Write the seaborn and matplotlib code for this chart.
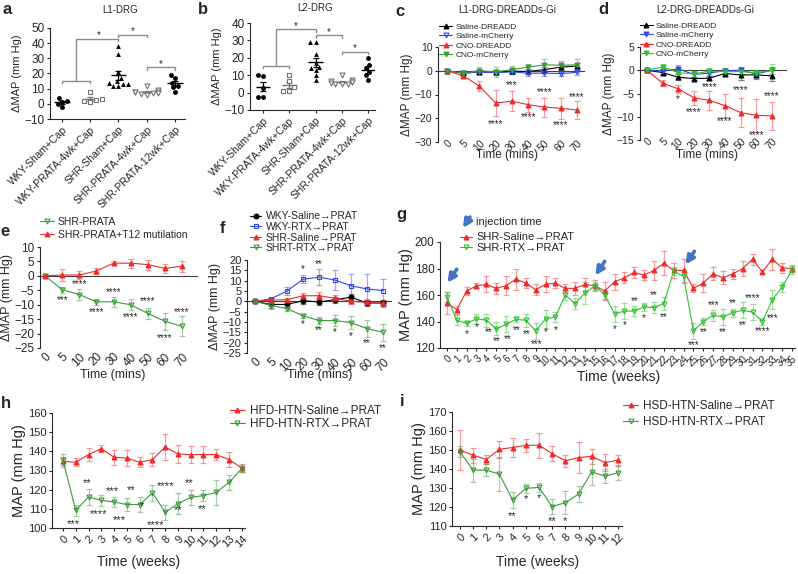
import numpy as np
import matplotlib
matplotlib.use("Agg")
import matplotlib.pyplot as plt
import seaborn as sns

# ---------------- data ----------------
groups = ["WKY-Sham+Cap", "WKY-PRATA-4wk+Cap", "SHR-Sham+Cap",
          "SHR-PRATA-4wk+Cap", "SHR-PRATA-12wk+Cap"]

# a: L1-DRG
a_wky_sham = [4, 2, 1.5, 0, -2]
a_wky_prata = [8, 3, 2.5, 2, 1]
a_shr_sham = [38, 33, 21, 17, 15, 14, 13, 12, 12, 13]
a_shr_prata4 = [12, 9, 8, 7.5, 7, 6.5, 6, 7, 8]
a_shr_prata12 = [19, 17, 14, 12, 11, 8]

# b: L2-DRG
b_wky_sham = [10, 9.5, 2.5, -2.5, -2.3]
b_wky_prata = [10, 6.5, 3, 1, 1]
b_shr_sham = [29, 29, 22, 17, 15, 14, 13, 10, 7]
b_shr_prata4 = [10, 7, 6.5, 6, 6, 5.5, 5, 5, 5]
b_shr_prata12 = [20, 16, 14, 12, 10, 7.5]

mins = [0, 5, 10, 20, 30, 40, 50, 60, 70]

# c: L1-DRG-DREADDs-Gi
c_sal_dreadd = [0, -1, -0.5, -0.5, -0.2, -0.3, 0.5, 1.5, 2]
c_sal_dreadd_se = [0.3, 0.8, 1, 1, 1, 1, 1, 1.2, 1.2]
c_sal_mch = [0, -1, -0.5, -0.8, -0.5, -1, -1, -1.2, -0.7]
c_sal_mch_se = [0.3, 0.8, 1, 1, 1, 1, 1, 1.2, 1]
c_cno_dreadd = [0, -2.1, -6.5, -13.6, -12.8, -14.3, -15.3, -15.8, -16.5]
c_cno_dreadd_se = [0.3, 0.7, 2, 5.6, 4.3, 3, 4, 4.5, 3.7]
c_cno_mch = [0, -1, 0, -0.5, 0.5, 1.5, 2.5, 2.3, 2.5]
c_cno_mch_se = [0.3, 0.8, 1.5, 2, 1.5, 1.5, 2.5, 2, 2.5]

# d: L2-DRG-DREADDs-Gi
d_sal_dreadd = [0, -0.5, -1.5, -1.8, -1.7, -0.7, -1, -1, -1.2]
d_sal_dreadd_se = [0.2, 0.5, 0.6, 0.4, 0.4, 0.6, 1.1, 0.8, 1.2]
d_sal_mch = [0, -0.2, 0.3, -0.9, -0.6, -0.1, 0, -0.8, 0]
d_sal_mch_se = [0.2, 0.5, 0.8, 0.6, 0.6, 0.6, 0.7, 0.6, 0.8]
d_cno_dreadd = [0, -2.8, -4, -5.9, -6.5, -7.6, -9.1, -9.7, -9.8]
d_cno_dreadd_se = [0.2, 0.6, 0.8, 1.5, 2, 2.5, 3.1, 3.5, 3]
d_cno_mch = [0, 0.7, -0.5, -0.8, -0.2, -0.3, -0.3, -0.5, 0]
d_cno_mch_se = [0.2, 0.6, 0.8, 0.6, 0.6, 0.6, 0.8, 0.6, 1.4]

# e
e_prata = [0, -4.8, -6.5, -9, -9, -10, -13, -15.7, -17.5]
e_prata_se = [0.5, 1, 2, 1, 1.7, 2, 2, 3, 3.5]
e_t12 = [0, 0.3, 0.3, 1.7, 4.4, 4.4, 3.9, 2.6, 3.3]
e_t12_se = [0.5, 2.2, 1.4, 1, 0.8, 1.6, 1.7, 1.5, 2]

# f
f_wky_sal = [0, -1.5, -1.5, 0.3, -0.3, 0.8, 2, -0.8, -0.8]
f_wky_sal_se = [0.5, 1.5, 1.5, 1.5, 1.5, 1.5, 1.5, 1.5, 1.5]
f_wky_rtx = [0, 1.2, 5, 10.7, 11.7, 10.3, 7.5, 6, 5.2]
f_wky_rtx_se = [0.5, 0.5, 2, 2, 4, 5, 5.5, 7, 5.5]
f_shr_sal = [0, 0.6, 0.8, 2.7, 2.7, 1.5, 0, -0.5, -1]
f_shr_sal_se = [0.5, 1, 1, 1.5, 2, 1.5, 1.5, 1.5, 1.5]
f_shr_rtx = [0, -2, -3.5, -7, -9.3, -9.3, -10.3, -13.2, -15]
f_shr_rtx_se = [0.5, 1.5, 1, 1, 1.5, 2.5, 3, 4, 4]

# g
g_weeks = list(range(36))
g_saline = [154, 149, 163, 167, 168, 165, 167, 172, 169, 164, 168, 169, 165, 165,
            168, 167, 163, 170, 173, 177, 175, 178.5, 184, 178.5, 178.5, 165, 169,
            176, 173, 176, 180, 187, 177.5, 187, 180.5, 180]
g_saline_se = [8, 3, 3, 2, 6, 4, 7, 8, 4, 4, 6, 4, 3, 5, 5, 4, 7, 6, 4, 4, 4, 7, 9,
               6, 9, 3, 7, 5, 5, 4, 6, 4, 1, 8, 4, 3]
g_rtx = [158.5, 141, 138.5, 142, 141, 134.5, 137.8, 141.6, 141, 133, 142, 143.5,
         160, 153.5, 161.5, 167, 160, 146, 147.7, 148, 151, 150.5, 153.5, 178, 174,
         133, 140, 144.7, 143.5, 146.7, 148.5, 147, 140, 156.5, 166, 179]
g_rtx_se = [4, 4, 2, 4, 5, 5, 6, 2, 5, 6, 7, 4, 4, 4, 8, 3, 3, 6, 6, 4, 3, 4, 5, 3,
            5, 6, 3, 4, 6, 3, 6, 6, 3, 7, 4, 3]

# h
h_weeks = list(range(15))
h_saline = [134.8, 134.3, 138.3, 141.4, 136.9, 136.5, 134.3, 135.7, 142.3, 138.6,
            138.3, 138.3, 138.3, 135.7, 131.3]
h_saline_se = [2, 2, 3.5, 2, 4, 4, 2.5, 3.5, 7, 4.5, 4.5, 4.5, 3, 4, 2]
h_rtx = [135.3, 109.2, 116.2, 114.4, 113.6, 112.2, 112.2, 118.3, 108.2, 112.7,
         116, 116.9, 118.6, 123.8, 131]
h_rtx_se = [3.5, 3, 4, 3, 2.5, 3.5, 4, 4, 4, 5.5, 4, 3, 6.5, 4, 2]

# i
i_weeks = list(range(13))
i_saline = [149.9, 147.3, 145, 150.4, 151.3, 152.5, 152.5, 148.1, 144.3, 146, 146.7,
            143.4, 144.6]
i_saline_se = [10.5, 4, 2.5, 4.5, 5, 3.5, 6.5, 4, 3, 8, 4, 4.5, 3]
i_rtx = [149.2, 139.4, 139.4, 137.3, 123.7, 129.8, 130.3, 120.2, 122.3, 126.8,
         138.5, 136.3, 138]
i_rtx_se = [3, 6, 3, 9, 4, 2.5, 2.5, 4, 6, 4, 7, 3.5, 4]

# significance annotations (x index, y, text)
c_stars = [(3, -22.3, "****"), (4, -6, "***"), (5, -19.5, "****"),
           (6, -9, "****"), (7, -23, "****"), (8, -11, "****")]
d_stars = [(2, -6.3, "*"), (3, -9, "****"), (4, -3.7, "****"), (5, -11, "****"),
           (6, -4.3, "****"), (7, -14, "****"), (8, -5.6, "****")]
e_stars = [(1, -8.4, "***"), (2, -3, "****"), (3, -12.4, "****"), (4, -5.7, "****"),
           (5, -14.3, "****"), (6, -8.7, "****"), (7, -21.6, "****"), (8, -12.4, "****")]
f_stars = [(3, 15.7, "*"), (4, 18, "**"), (3, -11, "*"), (4, -14, "**"),
           (5, -15, "*"), (6, -17, "*"), (7, -20, "**"), (8, -22.5, "**")]
g_stars = [(2, 130.8, "*"), (3, 135.8, "*"), (4.2, 132, "**"), (5.1, 125.3, "**"),
           (6.2, 127, "**"), (7.1, 133.8, "**"), (8.1, 130.8, "**"), (9.1, 123.3, "***"),
           (10, 132, "*"), (11, 133.8, "*"), (17, 134, "*"), (18, 137.6, "*"),
           (19, 155.2, "**"), (20, 142.6, "*"), (21, 159.7, "**"), (22, 143.4, "**"),
           (25, 122.5, "***"), (26, 132, "**"), (27, 152.7, "***"), (28, 132, "**"),
           (29, 154, "**"), (30, 137.6, "**"), (31, 157.7, "****"), (32, 132.6, "****"),
           (33, 142.6, "***")]
h_stars = [(0.85, 102.3, "***"), (1.9, 123.5, "**"), (2.8, 107.5, "****"),
           (3.85, 119.1, "***"), (4.45, 104.3, "***"), (5.3, 119.6, "**"),
           (6.2, 111.3, "*"), (7.25, 101.7, "****"), (8.0, 122.1, "****"),
           (9.0, 109.6, "**"), (9.9, 123.5, "**"), (10.9, 110, "**")]
i_stars = [(4, 115, "**"), (5, 124, "*"), (6, 124.5, "*"), (7, 112.8, "**"),
           (8, 112.8, "*")]

# ---------------- style ----------------
RED = "#ee2a2a"
GREEN = "#3a9a3a"
LGREEN = "#2fbf2f"
BLUE = "#3344ee"
ARROW = "#4472c4"

sns.set_style("ticks")
plt.rcParams["font.family"] = ["Liberation Sans", "DejaVu Sans"]
plt.rcParams.update({
    "axes.linewidth": 0.8,
    "xtick.major.width": 0.8, "ytick.major.width": 0.8,
    "xtick.major.size": 2.5, "ytick.major.size": 2.5,
    "xtick.major.pad": 1.5, "ytick.major.pad": 1.5,
    "axes.labelpad": 2,
})

W, H = 798, 574
fig = plt.figure(figsize=(W / 100, H / 100), dpi=100)


def box(l, t, r, b):
    return fig.add_axes([l / W, 1 - b / H, (r - l) / W, (b - t) / H])


def ftext(x, y, s, **kw):
    kw.setdefault("ha", "center")
    kw.setdefault("va", "center")
    fig.text(x / W, 1 - y / H, s, **kw)


def scatter_panel(ax, lists, ylim, fs_tick, fs_lab):
    markers = ["o", "s", "^", "v", "o"]
    face = ["k", "w", "k", "w", "k"]
    edge = ["k", "0.45", "k", "0.45", "k"]
    for i, vals in enumerate(lists):
        sns.swarmplot(x=[groups[i]] * len(vals), y=vals, order=groups, ax=ax,
                      marker=markers[i], color=face[i], edgecolor=edge[i],
                      linewidth=0.8 if face[i] == "w" else 0, size=3.5)
        m = np.mean(vals)
        se = np.std(vals, ddof=1) / np.sqrt(len(vals))
        ax.hlines(m, i - 0.28, i + 0.28, color=edge[i], lw=1)
        ax.errorbar(i, m, yerr=se, fmt="none", ecolor=edge[i], elinewidth=0.9,
                    capsize=2.5, capthick=0.9)
    ax.set_ylim(*ylim)
    ax.set_yticks(np.arange(ylim[0], ylim[1] + 1, 10))
    ax.set_xticks(range(len(groups)))
    ax.set_xticklabels(groups, rotation=45, ha="right", rotation_mode="anchor",
                       fontsize=7.5)
    ax.tick_params(axis="y", labelsize=fs_tick)
    ax.set_xlabel("")
    ax.set_ylabel("ΔMAP (mm Hg)", fontsize=fs_lab)
    sns.despine(ax=ax)


def series(ax, x, y, err, color, marker, label, hollow=False, ms=3.5):
    ax.errorbar(x, y, yerr=err, fmt="none", ecolor=color, alpha=0.45,
                elinewidth=0.9, capsize=2, capthick=0.9, zorder=2)
    sns.lineplot(x=x, y=y, ax=ax, color=color, marker=marker, markersize=ms,
                 linewidth=0.8, markeredgecolor=color,
                 markerfacecolor="none" if hollow else color,
                 markeredgewidth=0.8, label=label, errorbar=None, zorder=3)


def time_axes(ax, labels, ylim, step, fs_tick, fs_x, ylabel, fs_lab, zero=True,
              xpad=2):
    ax.set_xticks(range(len(labels)))
    ax.set_xticklabels([str(v) for v in labels], rotation=45, ha="right",
                       rotation_mode="anchor", fontsize=fs_x)
    ax.set_ylim(*ylim)
    ax.set_yticks(np.arange(ylim[0], ylim[1] + 0.1, step))
    ax.tick_params(axis="y", labelsize=fs_tick)
    ax.set_ylabel(ylabel, fontsize=fs_lab, labelpad=1)
    ax.set_xlabel("")
    if zero:
        sns.despine(ax=ax, bottom=True)
        ax.tick_params(axis="x", length=0, pad=xpad)
        ax.axhline(0, color="0.25", lw=0.8, zorder=1)
    else:
        sns.despine(ax=ax)


def stars(ax, items, fs):
    for x, y, s in items:
        ax.text(x, y, s, ha="center", va="center", fontsize=fs)


def legend(ax, x, y, fs, spacing, hl=1.3):
    ax.legend(loc="lower left", bbox_to_anchor=(x, y), frameon=False, fontsize=fs,
              borderpad=0, borderaxespad=0, handlelength=hl, handletextpad=0.4,
              labelspacing=spacing)


# ---------------- a ----------------
ax = box(50, 28, 185, 119)
scatter_panel(ax, [a_wky_sham, a_wky_prata, a_shr_sham, a_shr_prata4, a_shr_prata12],
              (-10, 50), 8.5, 8)
ax.set_xlim(-0.42, 4.35)
br = dict(color="0.55", lw=1, clip_on=False)
ax.plot([0, 0, 1, 1], [13.5, 15, 15, 13.5], **br)
ax.plot([0.5, 0.5, 2, 2], [15, 43, 43, 41.5], **br)
ax.plot([2, 2, 3, 3], [44, 45.5, 45.5, 44], **br)
ax.plot([3, 3, 4, 4], [22.5, 24, 24, 22.5], **br)
stars(ax, [(1.3, 45.5, "*"), (2.5, 48, "*"), (3.5, 26.5, "*")], 7)
ftext(120, 10, "L1-DRG", fontsize=7)

# ---------------- b ----------------
ax = box(250, 23, 375, 110)
scatter_panel(ax, [b_wky_sham, b_wky_prata, b_shr_sham, b_shr_prata4, b_shr_prata12],
              (-10, 40), 8.5, 8)
ax.set_xlim(-0.5, 4.27)
ax.plot([0, 0, 1, 1], [14, 15.5, 15.5, 14], **br)
ax.plot([0.5, 0.5, 2, 2], [15.5, 36.5, 36.5, 35], **br)
ax.plot([2, 2, 3, 3], [31.5, 33, 33, 31.5], **br)
ax.plot([3, 3, 4, 4], [22, 23.6, 23.6, 22], **br)
stars(ax, [(1.25, 38.5, "*"), (2.5, 35, "*"), (3.5, 25.5, "*")], 7)
ftext(315, 8, "L2-DRG", fontsize=7)

# ---------------- c ----------------
ax = box(438, 47, 585, 142)
x = list(range(len(mins)))
series(ax, x, c_sal_dreadd, c_sal_dreadd_se, "k", "^", "Saline-DREADD")
series(ax, x, c_sal_mch, c_sal_mch_se, BLUE, "v", "Saline-mCherry", hollow=True)
series(ax, x, c_cno_dreadd, c_cno_dreadd_se, RED, "^", "CNO-DREADD")
series(ax, x, c_cno_mch, c_cno_mch_se, GREEN, "v", "CNO-mCherry")
time_axes(ax, mins, (-30, 10), 10, 7.5, 7.5, "ΔMAP (mm Hg)", 8.5, xpad=-3)
ax.set_xlim(-0.55, 8.5)
stars(ax, c_stars, 7)
legend(ax, 0.01, 0.87, 6, 0.2, hl=1.5)
ftext(507, 10, "L1-DRG-DREADDs-Gi", fontsize=7)
ftext(507, 155, "Time (mins)", fontsize=8.5)

# ---------------- d ----------------
ax = box(640, 47, 787, 140)
series(ax, x, d_sal_dreadd, d_sal_dreadd_se, "k", "^", "Saline-DREADD")
series(ax, x, d_sal_mch, d_sal_mch_se, BLUE, "v", "Saline-mCherry")
series(ax, x, d_cno_dreadd, d_cno_dreadd_se, RED, "^", "CNO-DREADD")
series(ax, x, d_cno_mch, d_cno_mch_se, LGREEN, "v", "CNO-mCherry")
time_axes(ax, mins, (-15, 5), 5, 7.5, 7.5, "ΔMAP (mm Hg)", 8.5, xpad=-3)
ax.set_xlim(-0.45, 8.97)
stars(ax, d_stars, 7)
legend(ax, 0.0, 0.88, 6, 0.2, hl=1.5)
ftext(705, 10, "L2-DRG-DREADDs-Gi", fontsize=7)
ftext(707, 155, "Time (mins)", fontsize=8.5)

# ---------------- e ----------------
ax = box(40, 247, 198, 348)
series(ax, x, e_prata, e_prata_se, GREEN, "v", "SHR-PRATA", hollow=True)
series(ax, x, e_t12, e_t12_se, RED, "^", "SHR-PRATA+T12 mutilation")
time_axes(ax, mins, (-25, 10), 5, 8.5, 8.5, "ΔMAP (mm Hg)", 9)
ax.set_xlim(-0.3, 8.94)
stars(ax, e_stars, 7)
legend(ax, 0.0, 1.07, 7.5, 0.3)
ftext(113, 375, "Time (mins)", fontsize=9)

# ---------------- f ----------------
ax = box(247, 260, 392, 353)
series(ax, x, f_wky_sal, f_wky_sal_se, "k", "o", "WKY-Saline→PRAT")
series(ax, x, f_wky_rtx, f_wky_rtx_se, BLUE, "s", "WKY-RTX→PRAT", hollow=True)
series(ax, x, f_shr_sal, f_shr_sal_se, RED, "^", "SHR-Saline→PRAT")
series(ax, x, f_shr_rtx, f_shr_rtx_se, GREEN, "v", "SHRT-RTX→PRAT", hollow=True)
time_axes(ax, mins, (-25, 20), 5, 8, 8.5, "ΔMAP (mm Hg)", 9)
ax.set_xlim(-0.5, 8.56)
stars(ax, f_stars, 7)
legend(ax, 0.02, 1.075, 7.5, 0.05, hl=1.1)
ftext(320, 375, "Time (mins)", fontsize=9)

# ---------------- g ----------------
ax = box(440, 242, 795, 348)
series(ax, g_weeks, g_saline, g_saline_se, RED, "^", "SHR-Saline→PRAT")
series(ax, g_weeks, g_rtx, g_rtx_se, LGREEN, "v", "SHR-RTX→PRAT", hollow=True)
time_axes(ax, g_weeks, (120, 200), 20, 8.5, 7, "MAP (mm Hg)", 10.5, zero=False)
ax.set_xlim(-0.7, 35.3)
stars(ax, g_stars, 7)
legend(ax, 0.056, 0.896, 8, 0.05, hl=1.1)
arr = dict(arrowstyle="-|>", color=ARROW, lw=2.6, mutation_scale=12, shrinkA=0, shrinkB=0)
for tip, tail in [((0.05, 169.3), (1.0, 179.4)), ((15.05, 174.8), (16.0, 185.4)),
                  ((24.2, 183), (25.1, 193))]:
    ax.annotate("", xy=tip, xytext=tail, arrowprops=arr, annotation_clip=False)
ax.annotate("", xy=(463 / W, 1 - 228 / H), xytext=(470 / W, 1 - 217 / H),
            xycoords="figure fraction", textcoords="figure fraction", arrowprops=arr)
ftext(476, 222, "injection time", fontsize=8, ha="left")
ftext(619, 377, "Time (weeks)", fontsize=10)

# ---------------- h ----------------
ax = box(52, 413, 245, 528)
series(ax, h_weeks, h_saline, h_saline_se, RED, "^", "HFD-HTN-Saline→PRAT")
series(ax, h_weeks, h_rtx, h_rtx_se, GREEN, "v", "HFD-HTN-RTX→PRAT", hollow=True)
time_axes(ax, h_weeks, (100, 160), 10, 8, 8, "MAP (mm Hg)", 10.5, zero=False)
ax.set_xlim(-0.86, 14.25)
stars(ax, h_stars, 8)
legend(ax, 0.92, 0.85, 8.5, 0.1)
ftext(139, 562, "Time (weeks)", fontsize=10)

# ---------------- i ----------------
ax = box(452, 412, 622, 526)
series(ax, i_weeks, i_saline, i_saline_se, RED, "^", "HSD-HTN-Saline→PRAT")
series(ax, i_weeks, i_rtx, i_rtx_se, GREEN, "v", "HSD-HTN-RTX→PRAT", hollow=True)
time_axes(ax, i_weeks, (110, 170), 10, 8, 8, "MAP (mm Hg)", 10.5, zero=False)
ax.set_xlim(-0.6, 12.3)
stars(ax, i_stars, 8)
legend(ax, 1.006, 0.86, 8.5, 0.35)
ftext(538, 562, "Time (weeks)", fontsize=10)

# panel letters
for lx, ly, s in [(7, 10, "a"), (203, 9, "b"), (400, 11, "c"), (603, 9, "d"),
                  (5, 231, "e"), (222, 228, "f"), (401, 215, "g"), (6, 403, "h"),
                  (402, 401, "i")]:
    ftext(lx, ly, s, fontsize=12, fontweight="bold")

fig.savefig("out.png", dpi=100)
